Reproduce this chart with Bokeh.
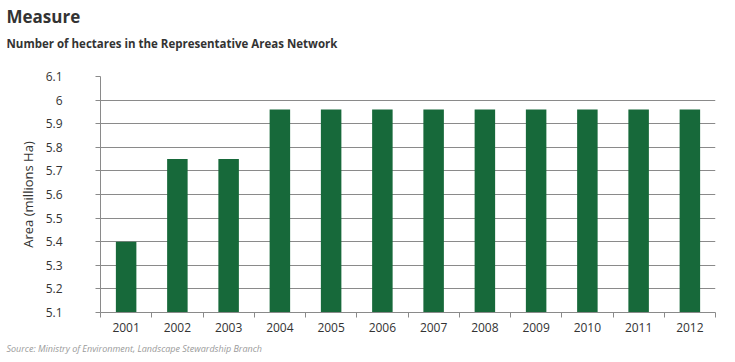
from bokeh.plotting import figure
from bokeh.models import ColumnDataSource, FixedTicker, Title, Range1d
from bokeh.embed import file_html
from bokeh.resources import INLINE

years = ["2001", "2002", "2003", "2004", "2005", "2006", "2007", "2008", "2009", "2010", "2011", "2012"]
area = [5.40, 5.75, 5.75, 5.96, 5.96, 5.96, 5.96, 5.96, 5.96, 5.96, 5.96, 5.96]
y_ticks = [5.1, 5.2, 5.3, 5.4, 5.5, 5.6, 5.7, 5.8, 5.9, 6.0, 6.1]
y_labels = ["5.1", "5.2", "5.3", "5.4", "5.5", "5.6", "5.7", "5.8", "5.9", "6", "6.1"]

FONT = "Open Sans"
TXT = "#333333"
GRID = "#8a8a8a"
BAR = "#17693a"

xpos = [i + 0.5 for i in range(len(years))]
src = ColumnDataSource(dict(x=xpos, top=area, year=years))

p = figure(width=735, height=362, output_backend="svg", toolbar_location=None,
           x_range=Range1d(0, len(years)), y_range=Range1d(5.1, 6.1),
           min_border_left=100, min_border_right=20, min_border_top=76, min_border_bottom=50)
p.outline_line_color = None
p.background_fill_color = "white"
p.border_fill_color = "white"

p.vbar(x="x", top="top", bottom=5.1, width=0.4, source=src, fill_color=BAR, line_color=None)

# x axis: labels at category centres, ticks at boundaries
p.xaxis.ticker = FixedTicker(ticks=xpos, minor_ticks=list(range(len(years) + 1)))
p.xaxis.major_label_overrides = {x: y for x, y in zip(xpos, years)}
p.xaxis.major_tick_out = 0
p.xaxis.major_tick_in = 0
p.xaxis.minor_tick_out = 5
p.xaxis.minor_tick_in = 0
p.xaxis.minor_tick_line_color = GRID
p.xaxis.axis_line_color = GRID
p.xaxis.major_label_text_font = FONT
p.xaxis.major_label_text_font_size = "12px"
p.xaxis.major_label_text_color = TXT
p.xaxis.major_label_standoff = 5

p.yaxis.ticker = FixedTicker(ticks=y_ticks)
p.yaxis.major_label_overrides = {t: l for t, l in zip(y_ticks, y_labels)}
p.yaxis.major_tick_out = 5
p.yaxis.major_tick_in = 0
p.yaxis.minor_tick_line_color = None
p.yaxis.major_tick_line_color = GRID
p.yaxis.axis_line_color = GRID
p.yaxis.major_label_text_font = FONT
p.yaxis.major_label_text_font_size = "12px"
p.yaxis.major_label_text_color = TXT
p.yaxis.major_label_standoff = 33
p.yaxis.axis_label = "Area (millions Ha)"
p.yaxis.axis_label_text_font = FONT
p.yaxis.axis_label_text_font_size = "13px"
p.yaxis.axis_label_text_font_style = "normal"
p.yaxis.axis_label_text_color = TXT
p.yaxis.axis_label_standoff = 6

p.xgrid.grid_line_color = None
p.ygrid.grid_line_color = GRID
p.ygrid.grid_line_width = 1

p.title = None
sub = Title(text="Number of hectares in the Representative Areas Network", align="left",
            text_font=FONT, text_font_size="11.5px", text_font_style="bold", text_color=TXT,
            offset=-94, standoff=52)
main = Title(text="Measure", align="left", text_font=FONT, text_font_size="17px",
             text_font_style="bold", text_color=TXT, offset=-94, standoff=-40)
p.add_layout(sub, "above")
p.add_layout(main, "above")

src_t = Title(text="Source: Ministry of Environment, Landscape Stewardship Branch", align="left",
              text_font=FONT, text_font_size="9px", text_font_style="italic", text_color="#9a9a9a",
              offset=-94, standoff=10)
p.add_layout(src_t, "below")

open("out.html", "w").write(file_html(p, INLINE))
